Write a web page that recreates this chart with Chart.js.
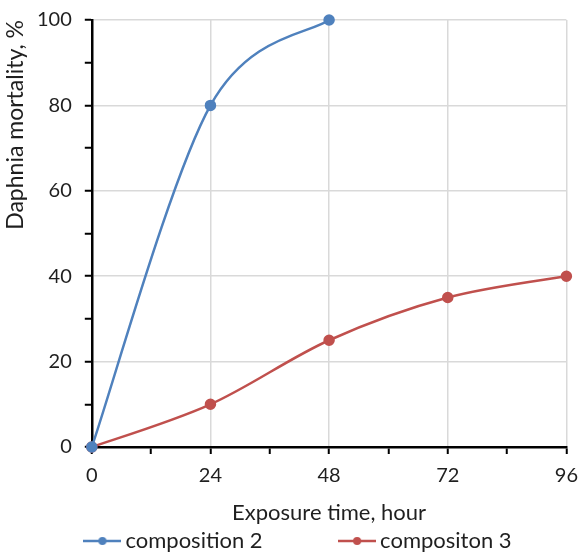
<!DOCTYPE html>
<html>
<head>
<meta charset="utf-8">
<script src="https://cdn.jsdelivr.net/npm/chart.js@4/dist/chart.umd.min.js"></script>
<style>
  html, body { margin: 0; padding: 0; background: #fff; }
  #wrap { width: 584px; height: 556px; }
</style>
</head>
<body>
<div id="wrap"><canvas id="chart"></canvas></div>
<script>
const hours = [0, 24, 48, 72, 96];
const composition2 = [0, 80, 100];
const composition3 = [0, 10, 25, 35, 40];
const seriesNames = ['composition 2', 'compositon 3'];
const seriesColors = ['#4f81bd', '#c0504d'];

const FONT = 'Lato, "Liberation Sans", sans-serif';
const TEXT = '#1f1f1f';

// legend marker: short line with a dot in the middle, like the Excel legend
const legendMarker = (color) => {
  const c = document.createElement('canvas');
  c.width = 38; c.height = 10;
  const g = c.getContext('2d');
  g.strokeStyle = color;
  g.lineWidth = 2.5;
  g.beginPath(); g.moveTo(0, 5); g.lineTo(38, 5); g.stroke();
  g.fillStyle = color;
  g.beginPath(); g.arc(19, 5, 4, 0, Math.PI * 2); g.fill();
  return c;
};

// Excel style smoothing: Catmull-Rom handles (neighbour difference / 6)
const excelSmooth = {
  id: 'excelSmooth',
  beforeDatasetDraw(chart, args) {
    const line = args.meta.dataset;
    line.updateControlPoints(chart.chartArea);
    const pts = args.meta.data;
    pts.forEach((p, i) => {
      const prev = pts[Math.max(i - 1, 0)];
      const next = pts[Math.min(i + 1, pts.length - 1)];
      const dx = (next.x - prev.x) / 6;
      const dy = (next.y - prev.y) / 6;
      p.cp1x = p.x - dx; p.cp1y = p.y - dy;
      p.cp2x = p.x + dx; p.cp2y = p.y + dy;
    });
  }
};

// the Excel legend sits a little right of centre
const legendNudge = {
  id: 'legendNudge',
  afterLayout(chart) {
    chart.legend.left += 7;
    chart.legend.right += 7;
  }
};

const toPoints = (ys) => ys.map((y, i) => ({ x: hours[i], y }));

const ctx = document.getElementById('chart').getContext('2d');
new Chart(ctx, {
  type: 'line',
  plugins: [excelSmooth, legendNudge],
  data: {
    datasets: [
      {
        label: seriesNames[0],
        data: toPoints(composition2),
        borderColor: seriesColors[0],
        backgroundColor: seriesColors[0],
        borderWidth: 2.5,
        tension: 0.4,
        clip: false
      },
      {
        label: seriesNames[1],
        data: toPoints(composition3),
        borderColor: seriesColors[1],
        backgroundColor: seriesColors[1],
        borderWidth: 2.5,
        tension: 0.4,
        clip: false
      }
    ]
  },
  options: {
    responsive: true,
    maintainAspectRatio: false,
    animation: false,
    layout: { padding: { left: 4, right: 0, top: 4, bottom: -6 } },
    elements: {
      point: { pointStyle: 'circle', radius: 4.5, hoverRadius: 4.5 }
    },
    plugins: {
      legend: {
        position: 'bottom',
        labels: {
          usePointStyle: true,
          pointStyleWidth: 24,
          color: TEXT,
          font: { family: FONT, size: 22, lineHeight: 1 },
          padding: 0,
          generateLabels: (chart) => chart.data.datasets.map((ds, i) => ({
            // trailing spaces open the gap between the two entries
            text: i === 0 ? ds.label + '\u2003\u2003\u2003\u2003\u2003' : ds.label,
            pointStyle: legendMarker(ds.borderColor),
            fontColor: TEXT,
            lineWidth: 0,
            strokeStyle: 'transparent',
            fillStyle: 'transparent',
            datasetIndex: i
          }))
        }
      },
      tooltip: { enabled: false }
    },
    scales: {
      x: {
        type: 'linear',
        min: 0,
        max: 96,
        afterFit: (s) => { s.paddingRight = Math.max(s.paddingRight - 6, 0); },
        ticks: {
          stepSize: 12,
          autoSkip: false,
          maxRotation: 0,
          color: TEXT,
          padding: 12,
          font: { family: FONT, size: 20, lineHeight: 1 },
          callback: (v) => (v % 24 === 0 ? v : '')
        },
        grid: {
          color: (c) => (c.tick && c.tick.value % 24 === 0 && c.tick.value !== 0 ? '#d9d9d9' : 'transparent'),
          lineWidth: 1.5,
          tickColor: '#000',
          tickWidth: 2,
          tickLength: 7
        },
        border: { color: '#000', width: 2.5 },
        title: {
          display: true,
          text: 'Exposure time, hour',
          color: TEXT,
          font: { family: FONT, size: 22, lineHeight: 1 },
          padding: { top: 4, bottom: 6 }
        }
      },
      y: {
        min: 0,
        max: 100,
        afterFit: (s) => { s.paddingTop = Math.max(s.paddingTop - 5, 0); },
        ticks: {
          stepSize: 10,
          autoSkip: false,
          color: TEXT,
          padding: 13,
          font: { family: FONT, size: 20 },
          callback: (v) => (v % 20 === 0 ? v : '')
        },
        grid: {
          color: (c) => (c.tick && c.tick.value % 20 === 0 && c.tick.value !== 0 ? '#d9d9d9' : 'transparent'),
          lineWidth: 1.5,
          tickColor: '#000',
          tickWidth: 2,
          tickLength: 7
        },
        border: { color: '#000', width: 2.5 },
        title: {
          display: true,
          text: 'Daphnia mortality, %',
          align: 'end',
          color: TEXT,
          font: { family: FONT, size: 23, lineHeight: 1 },
          padding: { top: 0, bottom: -3 }
        }
      }
    }
  }
});
</script>
</body>
</html>
